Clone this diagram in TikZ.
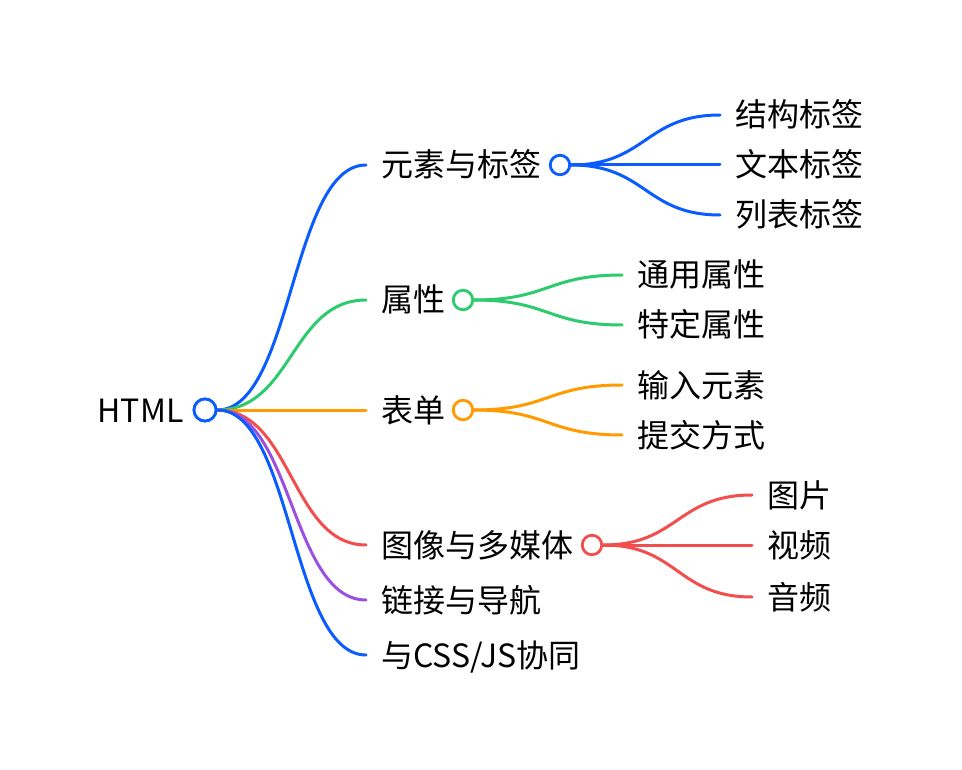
\documentclass[tikz,border=0pt]{standalone}
\usepackage{fontspec}
\setmainfont{Noto Sans CJK SC}
\usetikzlibrary{positioning}

\definecolor{mblue}{HTML}{0B5CFF}
\definecolor{mgreen}{HTML}{2DCB6E}
\definecolor{morange}{HTML}{FF9A00}
\definecolor{mred}{HTML}{F24E4E}
\definecolor{mpurple}{HTML}{9B51E0}

\begin{document}
\begin{tikzpicture}[
    x=1pt, y=-1pt,
    topic/.style={font=\fontsize{32}{38}\selectfont, text height=27pt, text depth=3pt, inner ysep=0pt, inner xsep=15pt, anchor=west},
    knob/.style={circle, fill=white, line width=2.8pt, minimum size=19.5pt, inner sep=0pt},
    link/.style={line width=3pt, line cap=round}
]
\useasboundingbox (0,0) rectangle (962,770);

% Root
\node[knob, draw=mblue, minimum size=22pt] (root) at (205,410) {};
\node[topic, anchor=east, inner xsep=9pt] (html) at (root.west) {HTML};

% Main branches
\node[topic] (elem) at (366,165) {元素与标签};
\node[topic] (attr) at (366,300) {属性};
\node[topic] (form) at (366,410) {表单};
\node[topic] (media) at (366,545) {图像与多媒体};
\node[topic] (nav) at (366,600) {链接与导航};
\node[topic] (css) at (366,655) {与CSS/JS协同};

% Leaves
\node[topic] (e1) at (720,115) {结构标签};
\node[topic] (e2) at (720,165) {文本标签};
\node[topic] (e3) at (720,215) {列表标签};
\node[topic] (a1) at (622,275) {通用属性};
\node[topic] (a2) at (622,325) {特定属性};
\node[topic] (f1) at (622,385) {输入元素};
\node[topic] (f2) at (622,435) {提交方式};
\node[topic] (m1) at (752,495) {图片};
\node[topic] (m2) at (752,545) {视频};
\node[topic] (m3) at (752,597) {音频};

% Knobs
\node[knob, draw=mblue] (elemk) at (560,165) {};
\node[knob, draw=mgreen] (attrk) at (463,300) {};
\node[knob, draw=morange] (formk) at (463,410) {};
\node[knob, draw=mred] (mediak) at (592,545) {};

% Root links
\draw[link, mblue] (root.east) .. controls +(75,0) and +(-75,0) .. (elem.west);
\draw[link, mgreen] (root.east) .. controls +(75,0) and +(-75,0) .. (attr.west);
\draw[link, morange] (root.east) -- (form.west);
\draw[link, mred] (root.east) .. controls +(75,0) and +(-75,0) .. (media.west);
\draw[link, mpurple] (root.east) .. controls +(75,0) and +(-75,0) .. (nav.west);
\draw[link, mblue] (root.east) .. controls +(75,0) and +(-75,0) .. (css.west);

% Leaf links
\foreach \k/\l/\c in {elemk/e1/mblue, elemk/e2/mblue, elemk/e3/mblue,
                      attrk/a1/mgreen, attrk/a2/mgreen,
                      formk/f1/morange, formk/f2/morange,
                      mediak/m1/mred, mediak/m2/mred, mediak/m3/mred}
  \draw[link, \c] (\k.east) .. controls +(75,0) and +(-75,0) .. (\l.west);

% Root knob on top
\node[knob, draw=mblue, minimum size=22pt] at (root) {};
\end{tikzpicture}
\end{document}
